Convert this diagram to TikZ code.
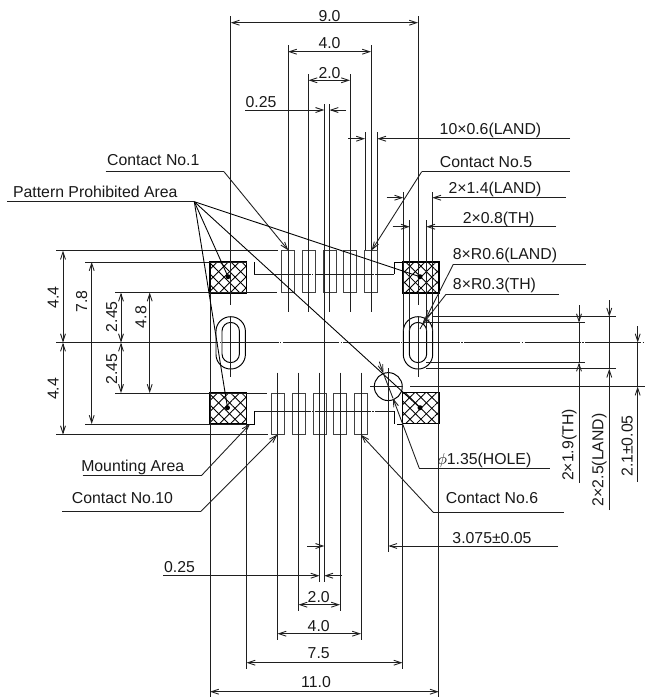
\documentclass[tikz,border=0pt]{standalone}
\usepackage{fontspec}
\setmainfont{Liberation Sans}
\usetikzlibrary{arrows.meta,patterns.meta}
\tikzset{
  dim/.style={line width=.5pt,black!88},
  arr/.style={dim,-{Straight Barb[length=4.2pt,width=2.8pt]}},
  arrs/.style={dim,{Straight Barb[length=4.2pt,width=2.8pt]}-{Straight Barb[length=4.2pt,width=2.8pt]}},
  axisline/.style={dim,dash pattern=on 32pt off .8pt on .8pt off .8pt},
  outline/.style={line width=.55pt,black},
  hatch/.style={draw,line width=.9pt,pattern={Lines[angle=45,distance=4.4pt,line width=.5pt]},
    postaction={pattern={Lines[angle=-45,distance=4.4pt,line width=.5pt]}}},
  lbl/.style={font=\fontsize{9}{9}\selectfont,inner sep=0pt,text=black!90},
}
\begin{document}
\begin{tikzpicture}[x=0.02cm,y=-0.02cm]
\useasboundingbox (0,0) rectangle (645,698);
% pads and ovals
\foreach \x/\y in {210/262,402.7/262,210/392.7,402.7/392.7} {\draw[hatch](\x,\y) rectangle ++(36.5,31);}
\foreach \x in {230.7,418} {
  \draw[outline,rounded corners=.292cm](\x-14.7,316.7) rectangle (\x+14.7,369);
  \draw[outline,rounded corners=.174cm](\x-8.7,322.4) rectangle (\x+8.7,362.6);
}
\draw[outline](388.3,386.6) circle (.28cm);
% contacts
\foreach \x in {288,308.5,329.5,350,371} {\draw[outline,black!75](\x-6.5,250.7) rectangle (\x+6.5,292);}
\foreach \x in {277.5,298.5,319.5,340,361} {\draw[outline,black!75](\x-6.5,393.5) rectangle (\x+6.5,434.7);}
% mounting area
\draw[outline](254.3,262)--(254.3,274);
\draw[axisline](254.3,274)--(394,274)(254.3,411)--(394,411);
\draw[outline](394,274)--(394,262)--(402.7,262)(254.3,411)--(254.3,424)--(247,424)(394,411)--(394,424)(397,424)--(402.7,424);
% extension lines
\foreach \x/\y in {288/45,308.5/74,329.5/104,350/74,371/45} {\draw[dim](\x,\y)--(\x,312);}
\foreach \x/\y in {277.5/640,298.5/611,319.5/582,340/611,361/640} {\draw[dim](\x,372.5)--(\x,\y);}
\foreach \x in {365,377.3} {\draw[dim](\x,132)--(\x,250);}
\foreach \x in {230.7,418} {\draw[dim](\x,16)--(\x,305)(\x,316)--(\x,377);}
\foreach \x in {403.3,432.3} {\draw[dim](\x,192)--(\x,331);}
\foreach \x in {409.7,426.3} {\draw[dim](\x,220)--(\x,331);}
\draw[dim](324.3,104)--(324.3,582);
\draw[dim](388.3,368)--(388.3,552);
\draw[dim](210,293)--(210,697)(438.7,293)--(438.7,697);
\draw[dim](246.5,424)--(246.5,669)(402.5,424)--(402.5,669);
\draw[dim](56,250.7)--(278,250.7)(85,262)--(247,262)(115,292.5)--(277,292.5);
\draw[dim](115,393)--(267,393)(85,424)--(247,424)(56,434.5)--(268,434.5);
\draw[dim](56,342.5)--(162,342.5);
\draw[axisline](162,342.5)--(645,342.5);
\draw[dim](370,386.6)--(403,386.6)(410,386.6)--(645,386.6);
\draw[dim](432,316.7)--(615.7,316.7)(426,322.5)--(585,322.5)(426,362.5)--(585,362.5)(426,368.7)--(615.7,368.7);
% top dimensions
\draw[arrs](230.7,22.7)--(418,22.7);
\draw[arrs](288,51.7)--(371,51.7);
\draw[arrs](308.5,80.3)--(350,80.3);
\draw[arr](245,110)--(324.3,110);
\draw[arr](346,110)--(329.5,110);
\draw[arr](348,138.7)--(365,138.7);
\draw[arr](570,138.7)--(377.3,138.7);
\draw[arr](386.7,197.7)--(403.3,197.7);
\draw[arr](565.7,197.7)--(432.3,197.7);
\draw[arr](392.7,226.7)--(409.7,226.7);
\draw[arr](556,226.7)--(426.3,226.7);
% bottom dimensions
\draw[arr](307,546)--(324.3,546);
\draw[arr](558,546)--(388.3,546);
\draw[arr](163.3,575.7)--(319.5,575.7);
\draw[arr](341.7,575.7)--(324.3,575.7);
\draw[arrs](298.5,604.7)--(340,604.7);
\draw[arrs](277.5,633.7)--(361,633.7);
\draw[arrs](246.5,662.7)--(402.5,662.7);
\draw[arrs](210,691.7)--(438.7,691.7);
% left dimensions
\draw[arrs](63,250.7)--(63,342.5);
\draw[arrs](63,342.5)--(63,434.5);
\draw[arrs](91.7,262)--(91.7,424);
\draw[arrs](121,292.5)--(121,342.5);
\draw[arrs](121,342.5)--(121,393);
\draw[arrs](149.7,292.5)--(149.7,393);
% right dimensions
\draw[arr](579,305)--(579,322.5);
\draw[dim](579,322.5)--(579,362.5);
\draw[arr](579,482.7)--(579,362.5);
\draw[arr](609.3,300)--(609.3,316.7);
\draw[dim](609.3,316.7)--(609.3,368.7);
\draw[arr](609.3,510)--(609.3,368.7);
\draw[arr](637.7,326)--(637.7,342.5);
\draw[dim](637.7,342.5)--(637.7,386.6);
\draw[arr](637.7,481.7)--(637.7,386.6);
% dimension texts
\node[lbl] (dimNine) at (329.5,16.5) {9.0};
\node[lbl] (dimFourTop) at (329.5,43) {4.0};
\node[lbl] (dimTwoTop) at (329.5,73) {2.0};
\node[lbl] (dimQuartTop) at (261,102) {0.25};
\node[lbl] (dimLand) at (490.5,130.7) {10×0.6(LAND)};
\node[lbl] (dimPadLand) at (495,189) {2×1.4(LAND)};
\node[lbl] (dimPadTh) at (498.7,219) {2×0.8(TH)};
\node[lbl] (dimShift) at (492,537.7) {3.075±0.05};
\node[lbl] (dimQuartBot) at (179.5,566.7) {0.25};
\node[lbl] (dimTwoBot) at (318.7,596.7) {2.0};
\node[lbl] (dimFourBot) at (318.7,625.7) {4.0};
\node[lbl] (dimSeven) at (318.7,653.3) {7.5};
\node[lbl] (dimEleven) at (316,681.7) {11.0};
\node[lbl,rotate=90] (dimUp) at (53.3,297.3) {4.4};
\node[lbl,rotate=90] (dimDown) at (53.3,389) {4.4};
\node[lbl,rotate=90] (dimHigh) at (81.7,301.7) {7.8};
\node[lbl,rotate=90] (dimGapUp) at (111.7,316.7) {2.45};
\node[lbl,rotate=90] (dimGapDown) at (111.7,369) {2.45};
\node[lbl,rotate=90] (dimGap) at (141,317) {4.8};
\node[lbl,rotate=90] (dimOvalTh) at (569.3,445) {2×1.9(TH)};
\node[lbl,rotate=90] (dimOvalLand) at (599.3,459.7) {2×2.5(LAND)};
\node[lbl,rotate=90] (dimHole) at (627.3,446) {2.1±0.05};
% leaders
\node[lbl] (conOne) at (153.3,160) {Contact No.1};
\node[lbl] (conFive) at (486,161.7) {Contact No.5};
\node[lbl] (conSix) at (492,497.7) {Contact No.6};
\node[lbl] (conTen) at (122.5,497.7) {Contact No.10};
\node[lbl] (areaPat) at (95.3,192.3) {Pattern Prohibited Area};
\node[lbl] (areaMount) at (132.7,467.3) {Mounting Area};
\node[lbl] (radLand) at (505,255.7) {8×R0.6(LAND)};
\node[lbl] (radTh) at (494.5,285.7) {8×R0.3(TH)};
\node[lbl] (holeDia) at (484.3,460) {$\phi$1.35(HOLE)};
\coordinate (conOneA) at (224,171.7);
\coordinate (conFiveA) at (421.7,171.7);
\coordinate (conSixA) at (433.3,512.3);
\coordinate (conTenA) at (201,511.3);
\coordinate (areaPatA) at (194.3,201.7);
\coordinate (areaMountA) at (201.7,475.3);
\coordinate (radLandA) at (453.3,264.3);
\coordinate (radThA) at (446,294.3);
\coordinate (holeDiaA) at (419.3,468.3);
\draw[dim](105.7,171.7)--(conOneA);
\draw[arr](conOneA)--(288.3,250.3);
\draw[dim](conFiveA)--(570,171.7);
\draw[arr](conFiveA)--(371.7,250.3);
\draw[dim](conSixA)--(564.3,512.3);
\draw[arr](conSixA)--(361,434.7);
\draw[dim](62.3,511.3)--(conTenA);
\draw[arr](conTenA)--(277.3,434.7);
\draw[dim](82.7,475.3)--(areaMountA);
\draw[arr](areaMountA)--(250,424);
\draw[dim](7.3,201.7)--(areaPatA);
\foreach \x/\y [count=\i] in {228/276.7,227.5/407.7,420/276.7,420/407.7} {
  \coordinate (spot\i) at (\x,\y);
  \fill (spot\i) circle (.05cm);
  \draw[dim,black](areaPatA)--(spot\i);
}
\draw[dim](radLandA)--(585.7,264.3);
\draw[arr](radLandA)--(425.6,319);
\draw[dim](425.6,319)--(420,329);
\draw[dim](radThA)--(559,294.3);
\draw[arr](radThA)--(422,325);
\draw[dim](holeDiaA)--(550,468.3);
\draw[arr](holeDiaA)--(393,398.3);
\draw[dim](393,398.3)--(383.3,373.3);
\draw[arr](379.3,361.7)--(383.3,373.3);
\end{tikzpicture}
\end{document}
